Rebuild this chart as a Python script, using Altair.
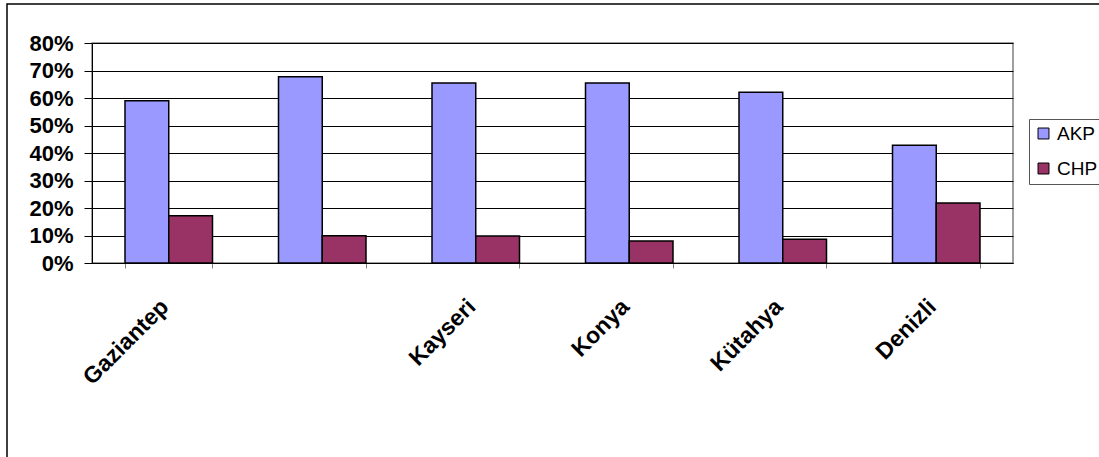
import altair as alt
import pandas as pd

categories = ["Gaziantep", " ", "Kayseri", "Konya", "Kütahya", "Denizli"]
akp = [0.590, 0.677, 0.655, 0.655, 0.621, 0.428]
chp = [0.172, 0.099, 0.098, 0.080, 0.086, 0.218]
series = ["AKP", "CHP"]
colors = ["#9999FF", "#993366"]
y_ticks = [0, 0.1, 0.2, 0.3, 0.4, 0.5, 0.6, 0.7, 0.8]

rows = []
for i, c in enumerate(categories):
    rows.append({"city": c, "party": "AKP", "value": akp[i]})
    rows.append({"city": c, "party": "CHP", "value": chp[i]})
df = pd.DataFrame(rows)

FONT = "Liberation Sans"

bars = alt.Chart(df).mark_bar(stroke="black", strokeWidth=1.5).encode(
    x=alt.X("city:N", sort=categories, title=None,
            scale=alt.Scale(paddingInner=0.43, paddingOuter=0.215),
            axis=alt.Axis(labelAngle=-45, labelAlign="right", labelBaseline="top",
                          labelOffset=-12, labelPadding=27, tickSize=5,
                          tickColor="#808080", tickBand="extent",
                          labelFont=FONT, labelFontSize=23, labelFontWeight="bold",
                          labelColor="black", domainColor="black", grid=False)),
    xOffset=alt.XOffset("party:N", sort=series, scale=alt.Scale(paddingInner=0, paddingOuter=0)),
    y=alt.Y("value:Q", title=None,
            scale=alt.Scale(domain=[0, 0.8], nice=False),
            axis=alt.Axis(values=y_ticks, format=".0%", labelFont=FONT, labelFontSize=22,
                          labelFontWeight="bold", labelColor="black", tickColor="black",
                          tickSize=8, labelPadding=11, domainColor="black",
                          gridColor="black", gridWidth=1)),
    color=alt.Color("party:N", sort=series,
                    scale=alt.Scale(domain=series, range=colors),
                    legend=alt.Legend(title=None, orient="none", legendX=937, legendY=76,
                                      strokeColor="#555555", fillColor="white",
                                      padding=5, symbolType="square", symbolSize=120,
                                      symbolStrokeColor="black", symbolStrokeWidth=1,
                                      symbolOpacity=1,
                                      labelFont=FONT, labelFontSize=19, labelColor="black",
                                      rowPadding=15, labelOffset=4)),
)

border = alt.Chart(pd.DataFrame({"a": [0]})).mark_rect(
    fill=None, stroke="black", strokeWidth=1.5
).encode(
    x=alt.value(-85), x2=alt.value(1030), y=alt.value(-39), y2=alt.value(440)
)

chart = alt.layer(border, bars).properties(
    width=921, height=220,
    padding={"left": 92, "top": 43, "right": 86, "bottom": 194},
    autosize=alt.AutoSizeParams(type="none"),
).configure_view(stroke="#808080", strokeWidth=1.5)

chart.save("out.html", embed_options={"renderer": "svg", "actions": False})
